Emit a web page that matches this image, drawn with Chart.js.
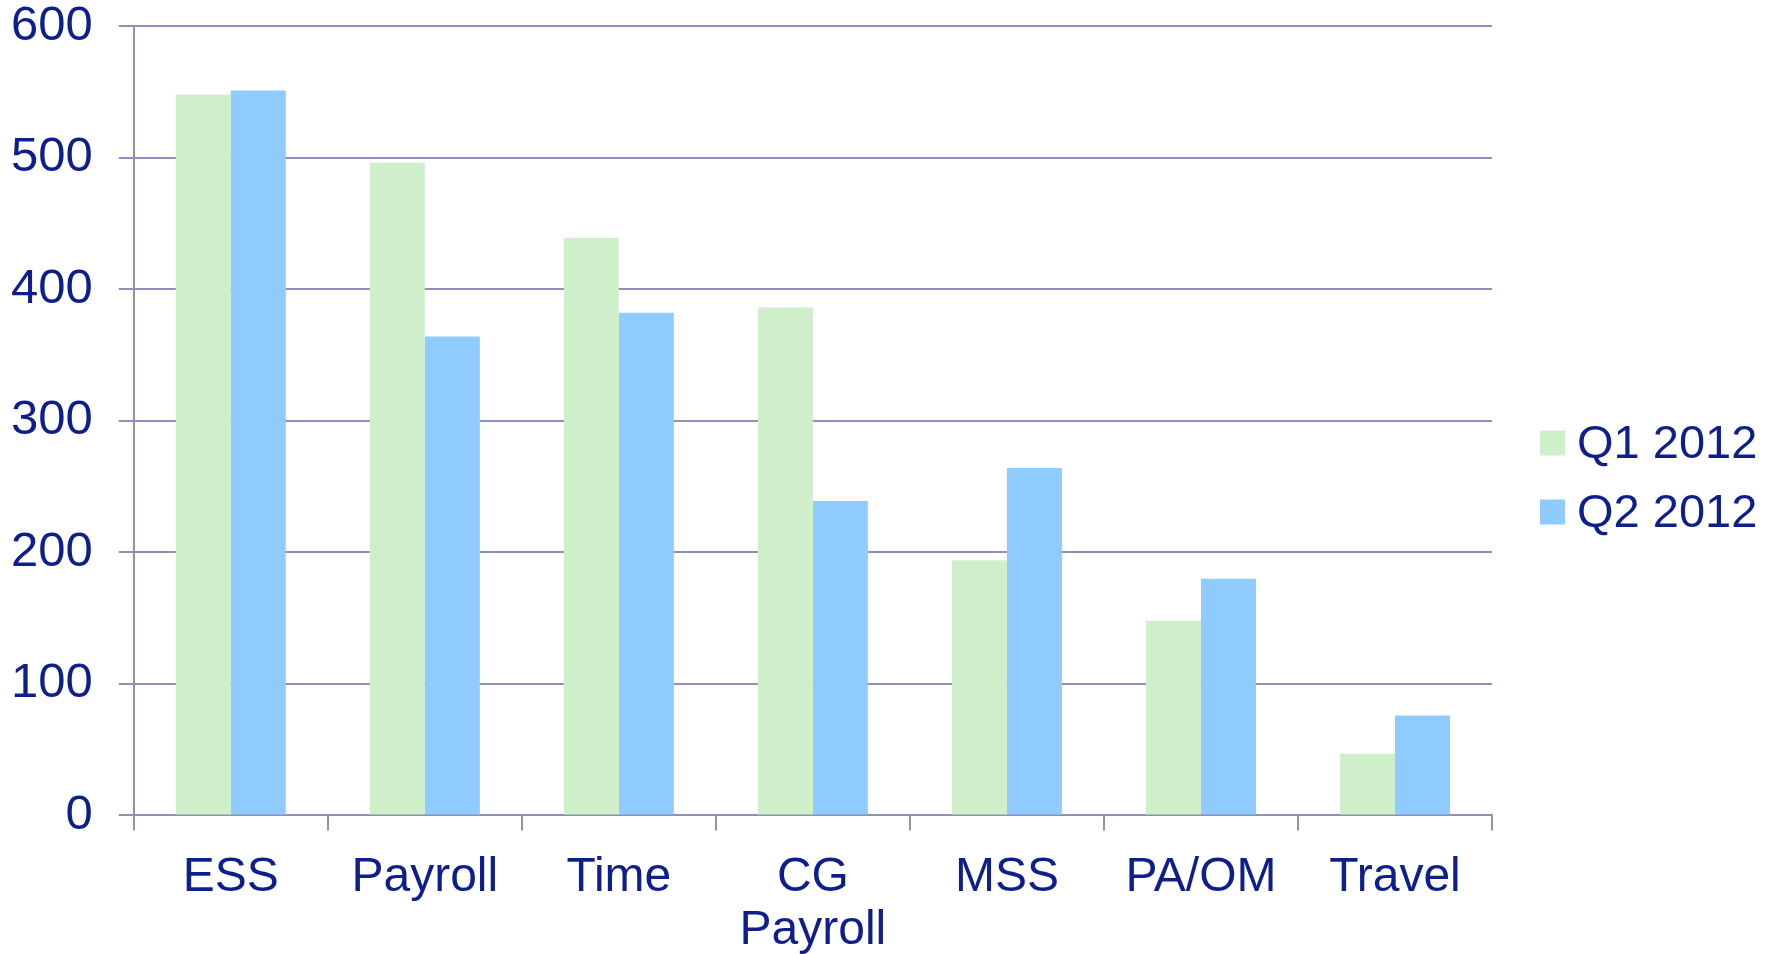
<!DOCTYPE html>
<html>
<head>
<meta charset="utf-8">
<script src="https://cdn.jsdelivr.net/npm/chart.js@4"></script>
<style>
  html, body { margin: 0; padding: 0; background: #fff; }
  #wrap { width: 1779px; height: 954px; }
</style>
</head>
<body>
<div id="wrap"><canvas id="chart" width="1779" height="954"></canvas></div>
<script>
const categories = ['ESS', 'Payroll', 'Time', ['CG', 'Payroll'], 'MSS', 'PA/OM', 'Travel'];
const seriesNames = ['Q1 2012', 'Q2 2012'];
const q1Values = [548, 496, 439, 386, 194, 148, 47];
const q2Values = [551, 364, 382, 239, 264, 180, 76];
const yTicks = [0, 100, 200, 300, 400, 500, 600];

const textColor = '#0e1e8c';
const lineColor = '#8f8fb8';
const fontFamily = '"Liberation Sans", Arial, sans-serif';

// legend drawn by hand so box / text gap matches the original
const sideLegend = {
    id: 'sideLegend',
    afterDraw(chart) {
        const ctx = chart.ctx;
        const x = 1540, size = 25;
        const rows = [443, 512];
        ctx.save();
        ctx.font = '47px ' + fontFamily;
        ctx.textBaseline = 'middle';
        ctx.textAlign = 'left';
        chart.data.datasets.forEach((ds, i) => {
            ctx.fillStyle = ds.backgroundColor;
            ctx.fillRect(x, rows[i] - size / 2, size, size);
            ctx.fillStyle = textColor;
            ctx.fillText(ds.label, x + size + 12, rows[i] + 2);
        });
        ctx.restore();
    }
};

new Chart(document.getElementById('chart').getContext('2d'), {
    type: 'bar',
    data: {
        labels: categories,
        datasets: [{
            label: seriesNames[0],
            data: q1Values,
            backgroundColor: '#cfefcb',
            barPercentage: 1,
            categoryPercentage: 0.567
        }, {
            label: seriesNames[1],
            data: q2Values,
            backgroundColor: '#90cbff',
            barPercentage: 1,
            categoryPercentage: 0.567
        }]
    },
    options: {
        responsive: false,
        animation: false,
        layout: {
            padding: { left: -15, right: 287, top: 0, bottom: -24 }
        },
        plugins: {
            legend: { display: false },
            tooltip: { enabled: false }
        },
        scales: {
            x: {
                grid: {
                    drawOnChartArea: false,
                    drawTicks: true,
                    tickLength: 15,
                    color: lineColor,
                    lineWidth: 2,
                    offset: true
                },
                border: { color: lineColor, width: 2 },
                ticks: {
                    color: textColor,
                    font: { family: fontFamily, size: 48, lineHeight: 1.12 },
                    padding: 20,
                    maxRotation: 0,
                    autoSkip: false
                }
            },
            y: {
                min: 0,
                max: 600,
                afterBuildTicks(axis) {
                    axis.ticks = yTicks.map(v => ({ value: v }));
                },
                grid: {
                    color: lineColor,
                    lineWidth: 2,
                    tickLength: 15
                },
                border: { color: lineColor, width: 2 },
                ticks: {
                    color: textColor,
                    // lineHeight 0 keeps the top label from pushing the plot down
                    font: { family: fontFamily, size: 49, lineHeight: 0 },
                    padding: 26
                }
            }
        }
    },
    plugins: [sideLegend]
});
</script>
</body>
</html>
